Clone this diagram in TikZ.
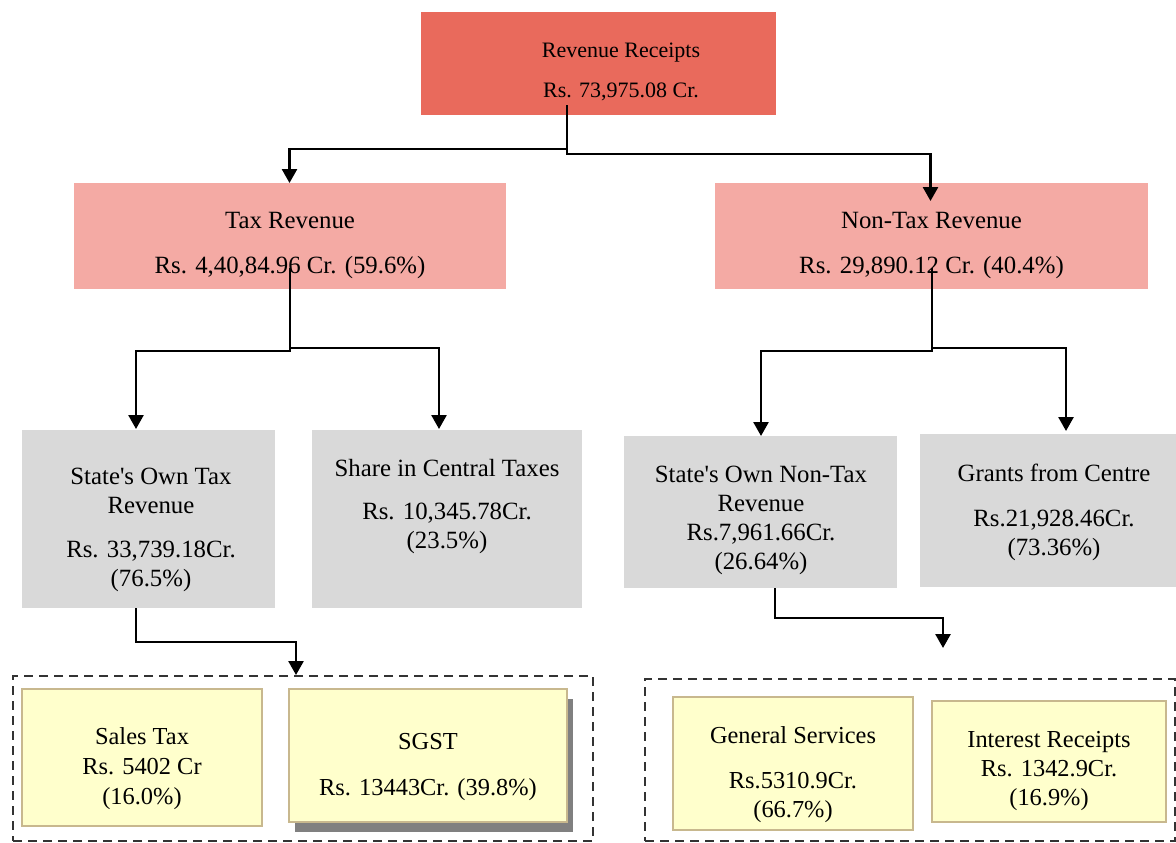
\documentclass[tikz,border=0pt]{standalone}
\usepackage{fontspec}
\setmainfont{Liberation Serif}[Ligatures=TeXOff]
\usetikzlibrary{arrows.meta,calc}
\definecolor{topred}{HTML}{E96A5C}
\definecolor{pinkbox}{HTML}{F4AAA4}
\definecolor{graybox}{HTML}{D9D9D9}
\definecolor{yellowbox}{HTML}{FFFFCC}
\definecolor{tanline}{HTML}{C8B88E}
\definecolor{shadowgray}{HTML}{808080}
\begin{document}
\begin{tikzpicture}[x=0.5pt,y=-0.5pt,
  wh/.style 2 args={minimum width=#1*0.5pt, minimum height=#2*0.5pt},
  plain/.style={inner sep=0pt, outer sep=0pt, draw=none, rectangle},
  ybox/.style={plain, fill=yellowbox, draw=tanline, line width=0.6pt},
  group/.style={plain, draw=black!80, line width=1.25pt, dash pattern=on 4.5pt off 3pt},
  txt/.style={inner sep=0pt, align=center, font=\fontsize{12.4}{14.5}\selectfont},
  arr/.style={draw=black, line width=1.3pt, -{Triangle[length=7pt,width=7.5pt]}}
]
\useasboundingbox (0,0) rectangle (1176,842);

% boxes
\node[plain, fill=topred, wh={355}{103}] (top) at (598.5,63.5) {};
\node[plain, fill=pinkbox, wh={432}{106}] (tax) at (289.5,236) {};
\node[plain, fill=pinkbox, wh={433}{106}] (ntax) at (931.5,236) {};
\node[plain, fill=graybox, wh={253}{178}] (sotax) at (148.5,519) {};
\node[plain, fill=graybox, wh={270}{178}] (share) at (447,519) {};
\node[plain, fill=graybox, wh={273}{152}] (sontax) at (760.5,512) {};
\node[plain, fill=graybox, wh={256}{153}] (grants) at (1048,510.5) {};
\node[group, wh={580}{165}] (groupL) at (303,758.5) {};
\node[group, wh={530}{162}] (groupR) at (910,760) {};
\node[ybox, wh={240}{137}] (sales) at (142,757.5) {};
\node[plain, fill=shadowgray, wh={278}{133}] (sgstshadow) at (434,765.5) {};
\node[ybox, wh={278}{133}] (sgst) at (428,755.5) {};
\node[ybox, wh={240}{133}] (gs) at (793,763.5) {};
\node[ybox, wh={234}{121}] (ir) at (1049,761.5) {};

% texts
\node[txt, font=\fontsize{11}{20}\selectfont] (topt) at (621,72) {Revenue Receipts\\Rs. 73,975.08 Cr.};
\node[txt] (taxt) at (290,246) {Tax Revenue\\[8pt]Rs. 4,40,84.96 Cr. (59.6\%)};
\node[txt] (ntaxt) at (931.5,246) {Non-Tax Revenue\\[8pt]Rs. 29,890.12 Cr. (40.4\%)};
\node[txt] (sotaxt) at (151,530) {State's Own Tax\\Revenue\\[7.5pt]Rs. 33,739.18Cr.\\(76.5\%)};
\node[txt] (sharet) at (447,507) {Share in Central Taxes\\[7pt]Rs. 10,345.78Cr.\\(23.5\%)};
\node[txt] (sontaxt) at (761,520) {State's Own Non-Tax\\Revenue\\Rs.7,961.66Cr.\\(26.64\%)};
\node[txt] (grantst) at (1054,512) {Grants from Centre\\[8pt]Rs.21,928.46Cr.\\(73.36\%)};
\node[txt, font=\fontsize{12.2}{15}\selectfont] (salest) at (142,769) {Sales Tax\\Rs. 5402 Cr\\(16.0\%)};
\node[txt, font=\fontsize{12.2}{15}\selectfont] (sgstt) at (428,767) {SGST\\[8pt]Rs. 13443Cr. (39.8\%)};
\node[txt, font=\fontsize{12.2}{14.5}\selectfont] (gst) at (793,775) {General Services\\[8pt]Rs.5310.9Cr.\\(66.7\%)};
\node[txt, font=\fontsize{12.2}{14.5}\selectfont] (irt) at (1049,771) {Interest Receipts\\Rs. 1342.9Cr.\\(16.9\%)};

% connectors
\coordinate (topout) at (567,105);
\draw[arr] (topout) -- (567,149) -| (tax.north);
\draw[arr] (topout) -- (567,154) -| ($(ntax.north)+(-1,18)$);
\coordinate (taxout) at (290,268);
\draw[arr] (taxout) -- (290,351) -| ($(sotax.north)+(-12.5,-1)$);
\draw[arr] (taxout) -- (290,348) -| ($(share.north)+(-8,-1)$);
\coordinate (ntaxout) at (932,268);
\draw[arr] (ntaxout) -- (932,351) -| ($(sontax.north)+(0.5,0)$);
\draw[arr] (ntaxout) -- (932,348) -| ($(grants.north)+(18,-3)$);
\draw[arr] ($(sotax.south)+(-12.5,0)$) -- (136,642) -| ($(groupL.north)+(-7,-1)$);
\draw[arr] ($(sontax.south)+(14.5,0)$) -- (775,618) -| ($(groupR.north)+(33,-31)$);
\end{tikzpicture}
\end{document}
